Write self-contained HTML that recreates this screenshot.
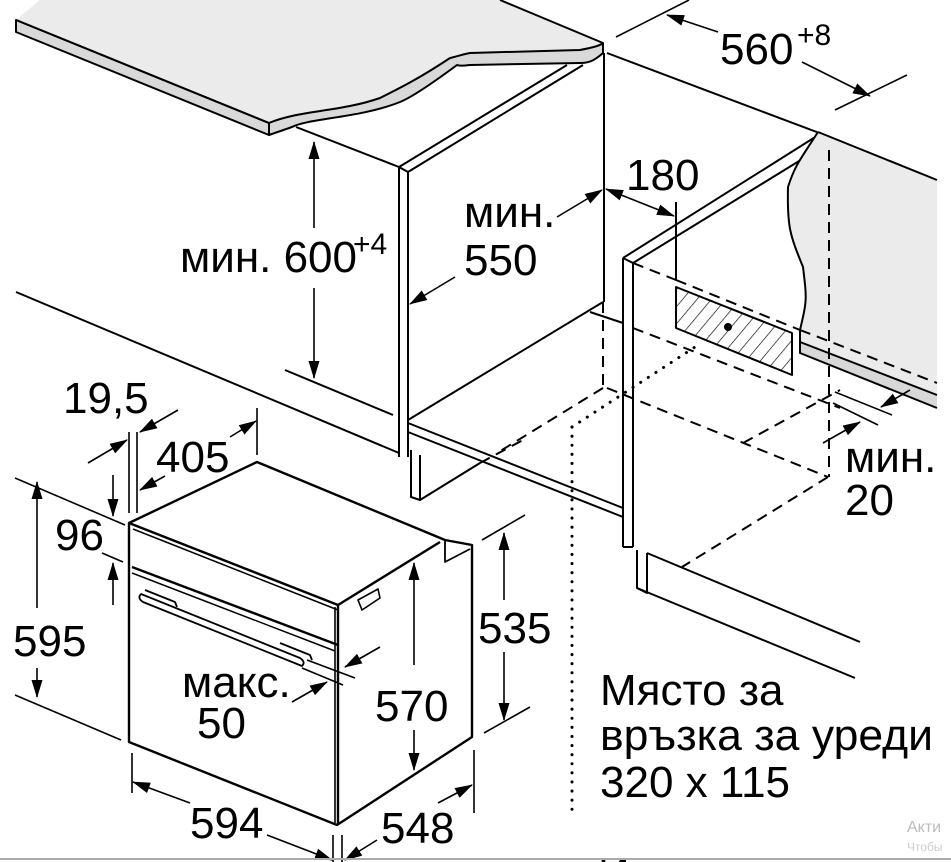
<!DOCTYPE html>
<html><head><meta charset="utf-8"><style>
html,body{margin:0;padding:0;background:#fff;}
svg{display:block;}
text{font-family:"Liberation Sans",sans-serif;fill:#000;}
</style></head><body>
<svg width="951" height="862" viewBox="0 0 951 862" xmlns="http://www.w3.org/2000/svg">
<defs>
<marker id="a" viewBox="0 0 18 11" refX="17" refY="5.5" markerWidth="18" markerHeight="11" markerUnits="userSpaceOnUse" orient="auto-start-reverse"><path d="M0,0 L18,5.5 L0,11 Z" fill="#000"/></marker>
<pattern id="h" patternUnits="userSpaceOnUse" width="11" height="11" patternTransform="rotate(40)"><line x1="0" y1="0" x2="0" y2="11" stroke="#000" stroke-width="1.3"/></pattern>
</defs>
<g fill="none" stroke="#000" stroke-width="2" stroke-linejoin="round">
<path d="M16,20 L40,0 L500,0 L603,43 C590,48 585,50 580,50 L470,53 C460,55 455,57 450,58 C420,78 400,88 380,98 C340,112 300,110 269,123 Z" fill="#ebebeb" stroke="none"/>
<path d="M16,20 L16,32 L269,135 L269,123 Z" fill="#d9d9d9"/>
<path d="M269,123 C300,110 340,112 380,98 C400,88 420,78 450,58 C455,57 460,55 470,53 L580,50 C590,48 600,46 603,43 L603,53 C595,60 590,63 580,63 L470,65 C462,66 459,66 457,65 C430,85 410,98 400,102 C360,118 310,118 292,127 L269,135 Z" fill="#d9d9d9"/>
<path d="M16,20 L269,123"/>
<line x1="603" y1="43" x2="500" y2="0"/>
<line x1="296" y1="127" x2="399" y2="167"/>
<line x1="399" y1="167" x2="567" y2="65"/>
<line x1="408" y1="172" x2="583" y2="65"/>
<line x1="399" y1="167" x2="408" y2="172"/>
<line x1="399" y1="167" x2="399" y2="457"/>
<line x1="408" y1="172" x2="408" y2="457"/>
<line x1="604" y1="53" x2="604" y2="302"/>
<line x1="607" y1="53" x2="822" y2="134"/>
<line x1="408" y1="420" x2="603" y2="302"/>
<line x1="590" y1="312" x2="623" y2="323"/>
<line x1="408" y1="423" x2="623" y2="508"/>
<line x1="408" y1="432" x2="623" y2="517"/>
<path d="M411,450 L411,497 L420,500 L420,455 M420,500 L480,463"/>
<line x1="16" y1="292" x2="399" y2="453"/>
<line x1="285" y1="370" x2="393" y2="415"/>
<line x1="623" y1="258" x2="820" y2="134"/>
<line x1="633" y1="263" x2="817" y2="150"/>
<line x1="623" y1="258" x2="633" y2="263"/>
<line x1="623" y1="258" x2="623" y2="547"/>
<line x1="633" y1="263" x2="633" y2="547"/>
<line x1="623" y1="547" x2="633" y2="547"/>
<path d="M637,550 L637,588 L647,593 L647,553"/>
<line x1="647" y1="553" x2="860" y2="642"/>
<line x1="637" y1="588" x2="855" y2="678"/>
<path d="M818,132 L937,180 L937,408 L800,353 L800,330 C807,300 807,300 803,267 C790,235 787,227 788,187 C795,165 800,160 818,132 Z" fill="#ebebeb" stroke="none"/>
<path d="M800,342 L937,395 L937,408 L800,353 Z" fill="#d8d8d8" stroke="none"/>
<path d="M818,132 C800,160 795,165 788,187 C787,227 790,235 803,267 C807,300 807,300 800,330 L800,353 L937,408"/>
<line x1="818" y1="132" x2="937" y2="180"/>
<line x1="800" y1="342" x2="937" y2="395"/>
<path d="M676,287 L792,333 L792,375 L676,328 Z" fill="url(#h)"/>
<line x1="676" y1="202" x2="676" y2="280"/>
</g>
<circle cx="728" cy="327" r="4" fill="#000"/>
<g fill="none" stroke="#000" stroke-width="2" stroke-dasharray="11,7">
<line x1="603" y1="302" x2="603" y2="388"/>
<line x1="603" y1="388" x2="497" y2="453"/>
<line x1="607" y1="388" x2="828" y2="477"/>
<line x1="829" y1="150" x2="829" y2="477"/>
<line x1="828" y1="477" x2="682" y2="567"/>
<line x1="633" y1="328" x2="840" y2="408"/>
<line x1="743" y1="443" x2="840" y2="390"/>
<line x1="633" y1="263" x2="676" y2="280"/>
<line x1="676" y1="280" x2="800" y2="330"/>
<line x1="800" y1="330" x2="937" y2="383"/>
<line x1="480" y1="463" x2="523" y2="440"/>
</g>
<g fill="none" stroke="#000" stroke-width="3" stroke-dasharray="0.1,9" stroke-linecap="round">
<line x1="572" y1="427" x2="572" y2="810"/>
<line x1="572" y1="427" x2="695" y2="347"/>
</g>
<g fill="none" stroke="#000" stroke-width="2.4" stroke-linejoin="round">
<path d="M129,523 L257,462 L445,540 L472,545 L472,737 L337,825 L129,742 Z" fill="#fff"/>
<path d="M129,523 L338,605 L338,825"/>
<line x1="335" y1="607" x2="335" y2="823" stroke-width="1.6"/>
<line x1="338" y1="605" x2="440" y2="542"/>
<path d="M445,540 L445,562 L470,549" stroke-width="1.8"/>
<line x1="133" y1="529" x2="338" y2="610" stroke-width="1.5"/>
<line x1="132" y1="567" x2="338" y2="645"/>
<line x1="132" y1="573" x2="335" y2="651" stroke-width="1.5"/>
<path d="M141,594 L300,658 Q306,662 302,666 L143,602 Q137,598 141,594 Z" stroke-width="1.8"/>
<path d="M145,590 L175,602 L177,607 M280,643 L310,655 L312,660" stroke-width="1.8"/>
<path d="M358,600 L378,589 L380,598 L362,610 Z" stroke-width="1.6"/>
</g>
<g fill="none" stroke="#000" stroke-width="1.6">
<line x1="314" y1="142" x2="314" y2="228" marker-start="url(#a)"/>
<line x1="314" y1="288" x2="314" y2="378" marker-end="url(#a)"/>
<line x1="557" y1="217" x2="602" y2="190" marker-end="url(#a)"/>
<line x1="455" y1="277" x2="410" y2="304" marker-end="url(#a)"/>
<line x1="616" y1="37" x2="689" y2="0"/>
<line x1="835" y1="110" x2="907" y2="75"/>
<line x1="718" y1="32" x2="667" y2="15" marker-end="url(#a)"/>
<line x1="802" y1="62" x2="870" y2="96" marker-end="url(#a)"/>
<line x1="606" y1="189" x2="674" y2="216" marker-start="url(#a)" marker-end="url(#a)"/>
<line x1="835" y1="392" x2="892" y2="415"/>
<line x1="833" y1="403" x2="878" y2="425"/>
<line x1="910" y1="390" x2="881" y2="407" marker-end="url(#a)"/>
<line x1="823" y1="443" x2="860" y2="422" marker-end="url(#a)"/>
<line x1="129" y1="432" x2="129" y2="513"/>
<line x1="137" y1="432" x2="137" y2="513"/>
<line x1="257" y1="408" x2="257" y2="455"/>
<line x1="178" y1="410" x2="140" y2="432" marker-end="url(#a)"/>
<line x1="88" y1="463" x2="127" y2="440" marker-end="url(#a)"/>
<line x1="165" y1="476" x2="140" y2="490" marker-end="url(#a)"/>
<line x1="230" y1="437" x2="256" y2="421" marker-end="url(#a)"/>
<line x1="113" y1="475" x2="113" y2="516" marker-end="url(#a)"/>
<line x1="113" y1="605" x2="113" y2="563" marker-end="url(#a)"/>
<line x1="102" y1="553" x2="123" y2="562"/>
<line x1="15" y1="478" x2="125" y2="525"/>
<line x1="15" y1="695" x2="121" y2="740"/>
<line x1="37" y1="482" x2="37" y2="608" marker-start="url(#a)"/>
<line x1="37" y1="668" x2="37" y2="697" marker-end="url(#a)"/>
<line x1="414" y1="563" x2="414" y2="665" marker-start="url(#a)"/>
<line x1="414" y1="730" x2="414" y2="770" marker-end="url(#a)"/>
<line x1="482" y1="540" x2="525" y2="515"/>
<line x1="484" y1="733" x2="530" y2="707"/>
<line x1="504" y1="533" x2="504" y2="600" marker-start="url(#a)"/>
<line x1="504" y1="652" x2="504" y2="720" marker-end="url(#a)"/>
<line x1="307" y1="660" x2="355" y2="678"/>
<line x1="302" y1="668" x2="343" y2="685"/>
<line x1="292" y1="702" x2="327" y2="682" marker-end="url(#a)"/>
<line x1="380" y1="647" x2="345" y2="667" marker-end="url(#a)"/>
<line x1="132" y1="753" x2="132" y2="793"/>
<line x1="474" y1="750" x2="474" y2="813"/>
<line x1="333" y1="835" x2="333" y2="862"/>
<line x1="342" y1="835" x2="342" y2="862"/>
<line x1="190" y1="803" x2="133" y2="782" marker-end="url(#a)"/>
<line x1="267" y1="835" x2="332" y2="860" marker-end="url(#a)"/>
<line x1="377" y1="840" x2="345" y2="860" marker-end="url(#a)"/>
<line x1="438" y1="803" x2="472" y2="785" marker-end="url(#a)"/>
</g>
<g font-size="44">
<text x="180" y="272">мин. 600</text>
<text x="353" y="254" font-size="30">+4</text>
<text x="464" y="227">мин.</text>
<text x="464" y="275">550</text>
<text x="720" y="64">560</text>
<text x="797" y="45" font-size="30">+8</text>
<text x="626" y="190">180</text>
<text x="845" y="472">мин.</text>
<text x="845" y="515">20</text>
<text x="63" y="413">19,5</text>
<text x="156" y="472">405</text>
<text x="55" y="550">96</text>
<text x="13" y="656">595</text>
<text x="182" y="697">макс.</text>
<text x="197" y="738">50</text>
<text x="375" y="721">570</text>
<text x="478" y="643">535</text>
<text x="190" y="838">594</text>
<text x="381" y="843">548</text>
<text x="600" y="705">Място за</text>
<text x="600" y="750" textLength="333" lengthAdjust="spacingAndGlyphs">връзка за уреди</text>
<text x="600" y="797">320 x 115</text>
<text x="598" y="888">И</text>
</g>
<text x="907" y="832" font-size="16" style="fill:#bbb">Акти</text>
<text x="907" y="851" font-size="12" style="fill:#ccc">Чтобы</text>
<line x1="0" y1="859" x2="951" y2="859" stroke="#aaa" stroke-width="2"/>
</svg>
</body></html>
